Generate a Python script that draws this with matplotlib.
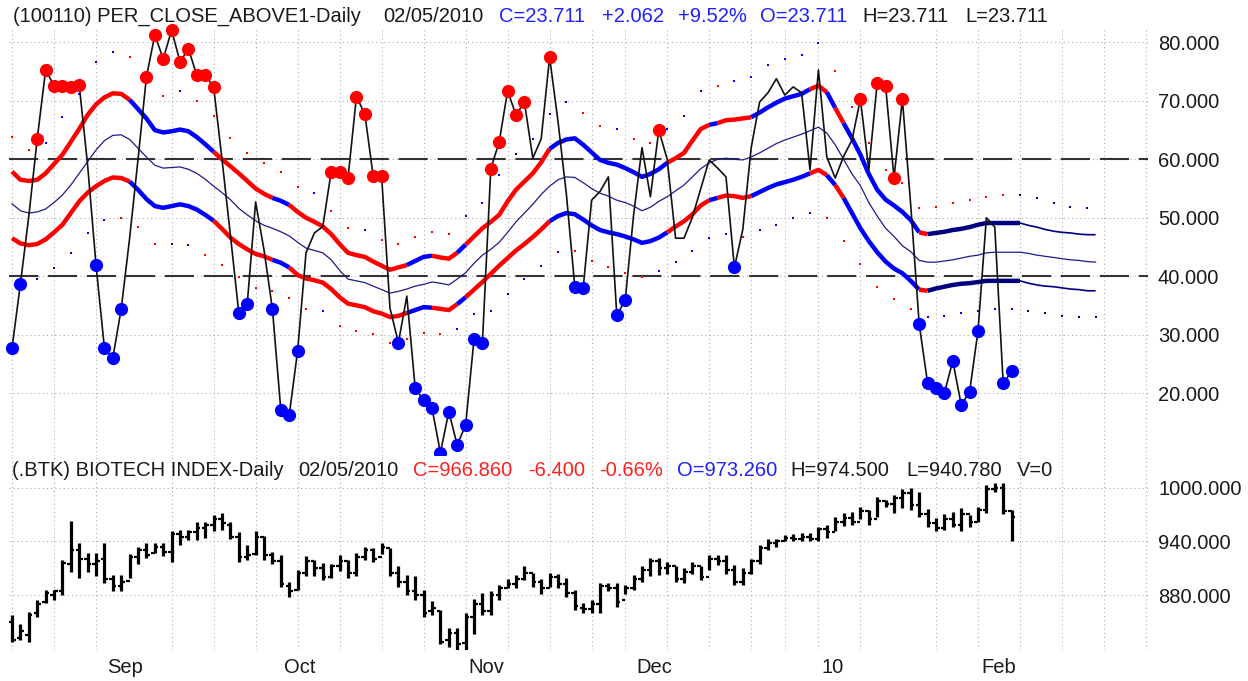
import numpy as np
import pandas as pd
import matplotlib
matplotlib.use('Agg')
import matplotlib.pyplot as plt
from matplotlib.ticker import FormatStrFormatter
from matplotlib.transforms import blended_transform_factory

plt.rcParams['font.family'] = ['Liberation Sans', 'DejaVu Sans']

# trading days (market holidays removed), last bar = 02/05/2010
holidays = ['2009-09-07', '2009-11-26', '2009-12-25', '2010-01-01', '2010-01-18']
days = pd.bdate_range('2009-08-17', periods=140, freq='C', holidays=holidays)

# PER_CLOSE_ABOVE1 daily values
per_close = [27.7, 38.7, 50.3, 63.5, 75.3, 72.6, 72.6, 72.3, 72.7, 59.0,
             41.9, 27.7, 26.0, 34.4, 46.5, 60.0, 74.1, 81.3, 77.2, 82.1,
             76.7, 78.9, 74.4, 74.4, 72.4, 60.0, 47.0, 33.7, 35.2, 52.7,
             44.5, 34.4, 17.1, 16.2, 27.2, 44.0, 47.4, 48.5, 57.9, 57.9,
             56.8, 70.7, 67.8, 57.1, 57.1, 34.5, 28.6, 36.6, 20.8, 18.8,
             17.4, 9.8, 16.8, 11.1, 14.5, 29.2, 28.6, 58.4, 63.0, 71.7,
             67.6, 69.8, 60.2, 63.5, 77.5, 66.5, 54.0, 38.2, 38.0, 53.0,
             54.5, 57.0, 33.3, 35.9, 50.5, 62.0, 53.6, 65.0, 60.0, 46.5,
             46.5, 50.1, 55.0, 59.9, 58.5, 57.0, 41.5, 48.0, 62.0, 69.8,
             71.4, 73.8, 71.0, 72.4, 71.4, 58.2, 75.3, 60.4, 56.8, 60.5,
             63.3, 70.3, 58.2, 73.1, 72.6, 56.8, 70.3, 52.0, 31.8, 21.7,
             20.9, 20.0, 25.5, 18.0, 20.2, 30.6, 50.0, 48.4, 21.65, 23.71]
red_pts = [3, 4, 5, 6, 7, 8, 16, 17, 18, 19, 20, 21, 22, 23, 24, 38, 39, 40, 41, 42,
           43, 44, 57, 58, 59, 60, 61, 64, 77, 101, 103, 104, 105, 106]
blue_pts = [0, 1, 10, 11, 12, 13, 27, 28, 31, 32, 33, 34, 46, 48, 49, 50, 51, 52, 53, 54,
            55, 56, 67, 68, 72, 73, 86, 108, 109, 110, 111, 112, 113, 114, 115, 118, 119]

# bands (extend 10 days past the last bar)
upper = [57.9, 56.5, 56.3, 56.5, 57.6, 59.2, 60.8, 63.0, 65.2, 67.6,
         69.4, 70.6, 71.3, 71.2, 70.2, 68.6, 67.0, 65.0, 64.6, 64.8,
         65.1, 64.8, 63.8, 62.6, 61.3, 60.0, 58.8, 57.6, 56.3, 55.0,
         54.1, 53.4, 52.9, 52.2, 51.0, 50.0, 49.3, 48.5, 47.2, 45.5,
         44.0, 43.6, 43.3, 42.5, 41.8, 41.1, 41.5, 41.9, 42.6, 43.3,
         43.5, 43.2, 43.0, 44.0, 45.4, 46.8, 48.2, 49.3, 50.5, 52.8,
         54.8, 56.2, 57.6, 59.5, 61.8, 62.8, 63.4, 63.6, 62.5, 61.2,
         59.9, 59.4, 59.1, 58.5, 57.8, 57.0, 57.5, 58.3, 59.4, 60.2,
         61.1, 63.2, 65.2, 65.9, 66.2, 66.7, 66.8, 67.0, 67.2, 68.0,
         68.9, 69.7, 70.4, 70.8, 71.2, 72.0, 72.6, 71.5, 68.8, 66.2,
         63.6, 60.8, 57.5, 54.8, 53.1, 52.1, 51.0, 49.6, 47.5, 47.2,
         47.4, 47.6, 47.9, 48.1, 48.4, 48.8, 49.1, 49.1, 49.1, 49.1,
         49.1, 48.7, 48.4, 48.0, 47.7, 47.5, 47.4, 47.2, 47.1, 47.1]
middle = [52.4, 51.2, 50.8, 51.0, 51.5, 52.6, 53.9, 55.6, 57.6, 59.6,
          61.6, 63.2, 64.1, 64.2, 63.4, 61.9, 60.4, 59.0, 58.5, 58.6,
          58.7, 58.3, 57.6, 56.6, 55.4, 54.3, 53.1, 51.6, 50.5, 49.5,
          48.7, 48.2, 47.6, 46.9, 45.8, 44.8, 44.4, 44.0, 42.8, 41.0,
          39.5, 39.2, 38.9, 38.3, 37.7, 37.1, 37.4, 37.8, 38.3, 38.6,
          39.0, 38.8, 38.5, 39.5, 40.6, 42.2, 43.6, 44.6, 45.8, 47.5,
          49.3, 50.8, 52.3, 54.0, 55.4, 56.5, 57.0, 56.9, 56.0, 55.0,
          54.2, 53.7, 53.0, 52.6, 52.0, 51.2, 51.8, 52.8, 53.6, 54.6,
          55.6, 57.0, 58.4, 59.4, 60.0, 60.2, 60.0, 59.9, 60.4, 61.1,
          61.9, 62.7, 63.3, 63.8, 64.3, 64.9, 65.5, 64.5, 62.5, 60.0,
          57.5, 55.5, 52.6, 50.3, 48.2, 46.8, 45.2, 44.2, 42.7, 42.4,
          42.4, 42.6, 42.8, 43.1, 43.4, 43.6, 44.0, 44.1, 44.1, 44.1,
          44.1, 43.9, 43.6, 43.4, 43.2, 43.0, 42.8, 42.7, 42.5, 42.4]
lower = [46.5, 45.6, 45.3, 45.5, 46.3, 47.5, 48.8, 50.8, 52.8, 54.3,
         55.4, 56.3, 56.9, 56.8, 56.2, 54.8, 53.2, 52.0, 51.7, 52.0,
         52.3, 52.0, 51.4, 50.5, 49.5, 48.1, 46.6, 45.5, 44.6, 43.8,
         43.4, 42.8, 42.3, 41.5, 40.2, 39.6, 39.3, 38.9, 37.8, 36.4,
         35.3, 35.0, 34.7, 34.0, 33.6, 33.0, 33.2, 33.7, 34.2, 34.7,
         34.6, 34.4, 34.2, 35.2, 36.4, 37.7, 39.0, 40.4, 41.8, 43.1,
         44.4, 45.5, 46.7, 48.0, 49.4, 50.3, 50.8, 50.6, 49.7, 48.7,
         47.9, 47.5, 47.2, 46.8, 46.3, 45.7, 46.0, 46.6, 47.5, 48.5,
         49.4, 50.6, 52.1, 53.0, 53.4, 53.8, 53.7, 53.4, 53.7, 54.4,
         55.1, 55.7, 56.1, 56.5, 57.0, 57.6, 58.2, 57.3, 55.6, 53.4,
         50.8, 48.2, 46.0, 44.1, 42.5, 41.3, 40.5, 39.2, 37.7, 37.5,
         37.9, 38.2, 38.5, 38.7, 38.8, 39.0, 39.2, 39.2, 39.2, 39.2,
         39.2, 38.8, 38.5, 38.3, 38.2, 38.0, 37.8, 37.7, 37.5, 37.5]
# colour runs of the bands: (first day, last day, colour code)
band_runs = [(0, 14, 'r'), (14, 24, 'b'), (24, 31, 'r'), (31, 33, 'b'), (33, 47, 'r'),
             (47, 50, 'b'), (50, 53, 'r'), (53, 54, 'b'), (54, 64, 'r'), (64, 78, 'b'),
             (78, 83, 'r'), (83, 84, 'b'), (84, 88, 'r'), (88, 95, 'b'), (95, 97, 'r'),
             (97, 98, 'b'), (98, 99, 'r'), (99, 108, 'b'), (108, 109, 'r'),
             (109, 120, 'N'), (120, 129, 'n')]

# outer dots: upper ones on even days, lower ones on odd days
up_dots = [63.8, 61.6, 62.8, 67.2, 71.2, 76.6, 78.4, 77.5, 74.3, 70.8,
           71.7, 70.0, 67.4, 63.7, 61.1, 59.4, 57.9, 55.3, 54.2, 51.2,
           48.2, 47.9, 46.2, 45.5, 46.7, 47.6, 47.2, 50.3, 52.5, 57.3,
           60.9, 63.5, 67.8, 69.8, 68.0, 65.7, 65.2, 63.5, 62.8, 65.2,
           67.4, 71.7, 72.6, 73.4, 74.1, 76.2, 77.2, 77.9, 79.9, 75.1,
           68.9, 62.8, 58.2, 56.0, 51.7, 51.9, 52.5, 53.0, 53.6, 53.9,
           53.9, 53.4, 52.5, 51.9, 51.7]
up_dot_col = 'rrbbbbbrrr' 'brrrrrrrbr' 'rbrrrrrbbb' 'bbbbrrbrrb' 'bbrbbbbbbr' 'rrrrrrrrrr' 'nnnnn'
lo_dots = [38.5, 39.5, 41.4, 44.0, 47.4, 49.6, 50.0, 48.4, 45.5, 45.5,
           45.3, 43.6, 41.9, 39.9, 38.0, 37.5, 36.3, 34.4, 34.0, 31.5,
           30.6, 30.1, 28.6, 29.3, 30.3, 30.1, 31.0, 33.5, 34.0, 37.0,
           39.5, 41.8, 44.1, 44.3, 42.6, 41.6, 40.6, 39.9, 40.9, 42.4,
           44.3, 46.5, 47.3, 46.7, 47.9, 48.8, 50.0, 50.8, 50.0, 46.0,
           42.1, 38.2, 36.1, 34.4, 33.0, 33.2, 33.7, 34.0, 34.4, 34.4,
           34.0, 33.7, 33.2, 33.0, 33.0]
lo_dot_col = 'bbbbbbrrrb' 'brrrrrrrbr' 'rrrrrrbbbb' 'bbbrrrrrbb' 'bbbrbbbbrr' 'rrrrbbbbbb' 'nnnnn'

# .BTK biotech index OHLC
btk_open = [850, 832, 835, 860, 872, 880, 884, 915, 930, 920,
            915, 920, 898, 890, 896, 922, 930, 927, 934, 928,
            948, 945, 950, 955, 958, 965, 958, 945, 922, 926,
            945, 925, 918, 890, 886, 905, 918, 910, 900, 912,
            918, 905, 922, 930, 922, 932, 905, 895, 885, 880,
            862, 862, 830, 838, 826, 855, 870, 862, 880, 888,
            892, 898, 905, 895, 888, 900, 892, 882, 866, 864,
            870, 890, 888, 874, 888, 898, 908, 918, 910, 912,
            898, 906, 912, 900, 920, 918, 908, 895, 905, 918,
            932, 938, 940, 944, 942, 945, 943, 954, 950, 962,
            966, 962, 974, 965, 985, 982, 988, 994, 980, 970,
            960, 955, 965, 958, 970, 962, 975, 998, 1000, 973.26]
btk_high = [858, 848, 861, 874, 886, 886, 919, 963, 938, 927,
            927, 938, 902, 902, 926, 934, 938, 938, 938, 951,
            953, 953, 961, 962, 969, 972, 961, 950, 936, 951,
            946, 928, 925, 894, 908, 923, 919, 916, 915, 925,
            919, 927, 934, 933, 938, 932, 912, 902, 901, 886,
            873, 863, 843, 843, 860, 876, 882, 884, 891, 898,
            902, 912, 905, 898, 905, 904, 899, 886, 871, 874,
            893, 893, 893, 891, 902, 912, 921, 921, 917, 912,
            910, 917, 912, 925, 925, 925, 914, 910, 920, 936,
            943, 943, 947, 948, 949, 949, 956, 958, 967, 972,
            973, 978, 975, 989, 986, 992, 998, 999, 995, 976,
            966, 971, 973, 977, 969, 978, 1003, 1005, 1005, 974.5]
btk_low = [828, 830, 828, 856, 871, 874, 880, 906, 899, 906,
           901, 893, 884, 884, 899, 915, 921, 927, 924, 917,
           936, 941, 941, 944, 951, 953, 942, 917, 919, 925,
           919, 915, 889, 878, 886, 901, 901, 897, 899, 907,
           899, 901, 919, 917, 926, 901, 889, 880, 874, 856,
           858, 825, 822, 819, 819, 837, 858, 858, 874, 888,
           888, 897, 889, 881, 889, 888, 878, 863, 860, 860,
           860, 884, 867, 881, 886, 895, 901, 902, 904, 895,
           893, 904, 897, 908, 914, 904, 891, 891, 904, 915,
           930, 934, 940, 940, 940, 940, 940, 944, 951, 957,
           958, 965, 958, 967, 978, 972, 977, 975, 967, 956,
           951, 953, 956, 951, 956, 962, 972, 995, 970, 940.78]
btk_close = [830, 840, 858, 870, 882, 884, 916, 930, 920, 915,
             918, 898, 890, 895, 922, 930, 925, 934, 928, 948,
             945, 950, 955, 958, 965, 960, 945, 922, 925, 945,
             925, 918, 892, 885, 905, 918, 910, 900, 912, 918,
             905, 922, 930, 920, 934, 905, 895, 885, 880, 860,
             866, 828, 838, 825, 855, 870, 862, 880, 888, 892,
             898, 905, 895, 888, 900, 892, 882, 868, 864, 870,
             890, 888, 872, 888, 898, 908, 918, 910, 912, 898,
             906, 912, 900, 920, 918, 908, 895, 905, 918, 932,
             938, 940, 944, 942, 945, 943, 954, 950, 962, 966,
             962, 974, 965, 985, 982, 988, 994, 980, 970, 960,
             955, 965, 958, 970, 962, 975, 998, 1000, 973.26, 966.86]
month_names = ['Sep', 'Oct', 'Nov', 'Dec', '10', 'Feb']

W, H = 1248, 681
fig = plt.figure(figsize=(W / 100, H / 100), dpi=100)
ax1 = fig.add_axes([9 / W, 1 - 456 / H, 1139 / W, 428 / H])
ax2 = fig.add_axes([9 / W, 1 - 650 / H, 1139 / W, 194 / H])

n = len(per_close)
x = np.arange(n)
xb = np.arange(len(upper))
mondays = [i for i in range(len(days)) if days[i].weekday() == 0]
colmap = {'r': '#ff0000', 'b': '#0000ff', 'N': '#000080', 'n': '#000080'}
grid_kw = dict(color='#a8a8a8', linestyle=(0, (1, 3)), linewidth=0.75)
txt = '#1a1a1a'

for ax in (ax1, ax2):
    ax.set_xlim(-0.36, 135.24)
    ax.set_xticks(mondays)
    ax.tick_params(axis='x', length=0, labelbottom=False)
    ax.yaxis.tick_right()
    ax.tick_params(axis='y', length=0, pad=7.2, labelsize=14.5, labelcolor=txt)
    ax.yaxis.set_major_formatter(FormatStrFormatter('%.3f'))
    for s in ax.spines.values():
        s.set_visible(False)
    ax.grid(True, **grid_kw)
    ax.set_axisbelow(True)

# ---- top panel ----
ax1.set_ylim(9.22, 82.48)
ax1.set_yticks([20, 30, 40, 50, 60, 70, 80])
for lvl in (60, 40):
    ax1.axhline(lvl, color='#333333', lw=1.5, dashes=(14, 4.7), zorder=1)

ux = np.arange(0, len(upper), 2)
for k, c in enumerate(up_dot_col):
    ax1.plot(ux[k], up_dots[k], 's', ms=1.8, mew=0, color=colmap[c], zorder=2)
lx = np.arange(1, len(upper), 2)
for k, c in enumerate(lo_dot_col):
    ax1.plot(lx[k], lo_dots[k], 's', ms=1.8, mew=0, color=colmap[c], zorder=2)

ax1.plot(xb, middle, color='#1c1c8a', lw=0.9, zorder=3)
for a, b, c in band_runs:
    lw = 1.2 if c == 'n' else 3.2
    ax1.plot(xb[a:b + 1], upper[a:b + 1], color=colmap[c], lw=lw,
             solid_capstyle='butt', zorder=4)
    ax1.plot(xb[a:b + 1], lower[a:b + 1], color=colmap[c], lw=lw,
             solid_capstyle='butt', zorder=4)

pc = np.array(per_close)
ax1.plot(x, pc, color='#111111', lw=1.2, zorder=5)
ax1.plot(red_pts, pc[red_pts], 'o', ms=9.5, mew=0, color='#ff0000', zorder=6, clip_on=False)
ax1.plot(blue_pts, pc[blue_pts], 'o', ms=9.5, mew=0, color='#0000ff', zorder=6, clip_on=False)

# ---- bottom panel ----
ax2.set_ylim(818.6, 1035.2)
ax2.set_yticks([880, 940, 1000])
ax2.vlines(x, btk_low, btk_high, color='black', lw=2.3)
ax2.hlines(btk_open, x - 0.42, x, color='black', lw=1.6)
ax2.hlines(btk_close, x, x + 0.42, color='black', lw=1.6)

tr = blended_transform_factory(ax2.transData, ax2.transAxes)
starts = [i for i in range(1, n) if days[i].month != days[i - 1].month]
for i, lab in zip(starts, month_names):
    ax2.text(i + 0.35, -0.088, lab, transform=tr, ha='left', va='center',
             fontsize=14.5, color=txt)

# ---- headers ----
def header(items, ypix):
    for xp, s, c in items:
        fig.text(xp / W, 1 - ypix / H, s, ha='left', va='center', fontsize=14.5, color=c)

header([(13, '(100110) PER_CLOSE_ABOVE1-Daily', txt), (383, '02/05/2010', txt),
        (499, 'C=23.711', '#2020ff'), (602, '+2.062', '#2020ff'),
        (678, '+9.52%', '#2020ff'), (760, 'O=23.711', '#2020ff'),
        (862, 'H=23.711', txt), (965, 'L=23.711', txt)], 16)
header([(12, '(.BTK) BIOTECH INDEX-Daily', txt), (298, '02/05/2010', txt),
        (413, 'C=966.860', '#ff2020'), (528, '-6.400', '#ff2020'),
        (599, '-0.66%', '#ff2020'), (677, 'O=973.260', '#2020ff'),
        (790, 'H=974.500', txt), (906, 'L=940.780', txt), (1017, 'V=0', txt)], 471)

fig.savefig('out.png', dpi=100)
